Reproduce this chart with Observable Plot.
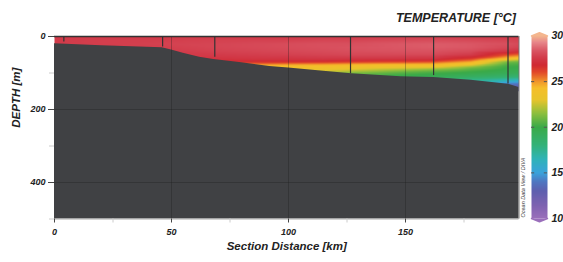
<!DOCTYPE html>
<html>
<head>
<meta charset="utf-8">
<script src="https://cdn.jsdelivr.net/npm/d3@7"></script>
<script src="https://cdn.jsdelivr.net/npm/@observablehq/plot@0.6"></script>
<style>
  html, body { margin: 0; padding: 0; background: #fff; }
  #wrap { position: relative; width: 563px; height: 262px; font-family: "Liberation Sans", Arial, sans-serif; }
  #wrap svg { position: absolute; left: 0; top: 0; }
  #title { position: absolute; right: 47px; top: 12px; font-size: 12.5px; font-weight: bold; font-style: italic; color: #222; line-height: 1; white-space: nowrap; }
</style>
</head>
<body>
<div id="wrap"><div id="title">TEMPERATURE [°C]</div></div>
<script>
// ---- data ----
const profileKm = [0, 25, 46, 68, 85, 100, 115, 127, 145, 162, 178, 194, 199];
const depthLevels = [0, 10, 20, 30, 40, 50, 60, 65, 70, 75, 80, 85, 90, 95, 100, 110, 120, 130, 140, 150];
const tempProfiles = [
  [27.5,27.6,27.6,27.6,27.5,27.4,27.3,27.2,27.1,27.0,26.8,26.5,26.0,25.5,25.0,24.0,23.0,22.0,21.0,20.0],
  [27.5,27.7,27.7,27.6,27.5,27.4,27.3,27.2,27.1,27.0,26.8,26.5,26.0,25.5,25.0,24.0,23.0,22.0,21.0,20.0],
  [27.5,27.7,27.8,27.7,27.6,27.5,27.3,27.2,27.1,27.0,26.8,26.5,26.0,25.5,25.0,24.0,23.0,22.0,21.0,20.0],
  [27.5,27.8,27.9,27.9,27.8,27.6,27.3,27.0,26.7,26.2,25.6,25.0,24.5,24.0,23.5,23.0,22.0,21.0,20.0,19.0],
  [27.5,27.8,28.0,28.0,27.9,27.7,27.4,27.1,26.5,25.5,24.5,24.0,23.5,23.0,22.5,22.0,21.0,20.0,19.0,18.0],
  [27.5,27.8,28.1,28.1,28.0,27.8,27.4,27.1,26.5,25.3,24.3,23.9,23.5,23.0,22.5,21.8,20.8,19.8,18.8,17.8],
  [27.6,27.9,28.2,28.2,28.1,27.9,27.5,27.1,26.4,25.2,24.2,23.7,23.2,22.6,22.0,21.2,20.2,19.2,18.2,17.2],
  [27.6,27.9,28.2,28.3,28.2,28.0,27.5,27.0,26.2,25.0,24.0,23.5,22.9,22.1,21.2,20.4,19.5,18.5,17.5,16.5],
  [27.7,28.0,28.4,28.4,28.3,28.0,27.5,26.9,26.0,24.8,23.8,23.1,22.2,21.3,20.6,19.8,19.0,18.0,17.0,16.0],
  [27.7,28.1,28.5,28.5,28.3,28.0,27.4,26.8,25.8,24.7,23.8,22.8,21.5,20.7,20.2,19.5,18.5,17.5,16.5,15.5],
  [27.6,28.0,28.4,28.4,28.1,27.6,26.5,25.6,24.6,23.8,22.5,21.2,20.6,20.2,19.8,19.0,17.5,16.5,15.5,14.5],
  [27.5,27.9,28.2,28.0,27.5,26.0,24.2,22.5,21.0,20.5,20.2,20.0,19.8,19.6,19.4,18.5,16.5,14.0,13.0,12.5],
  [27.5,27.8,28.0,27.8,27.2,25.6,23.8,22.0,20.8,20.4,20.1,19.9,19.7,19.5,19.3,18.3,16.2,13.8,12.8,12.3]
];
const bathyKm =    [0, 20, 46, 50, 55, 62, 68, 80, 92, 100, 115, 127, 148, 162, 178, 194, 198.5];
const bathyDepth = [20, 25, 31, 37, 46, 57, 63, 72, 82, 86, 95, 102, 110, 112, 120, 131, 140];
const stationKm =    [4, 46.2, 68.5, 126.5, 162, 193.8];
const stationDepth = [15, 29, 57, 102, 107, 130];
const xTicks = [0, 50, 100, 150];
const xMinorTicks = [25, 75, 125, 175];
const yTicks = [0, 200, 400];
const yMinorTicks = [100, 300, 500];
const colorTicks = [10, 15, 20, 25, 30];
const colorStops = [10, 11.5, 13, 14, 15, 16.5, 18, 20, 21.5, 23, 24.3, 25, 26, 26.8, 27.6, 28.4, 29.3, 30];
const colorRange = ["#9a6fbb","#7c62b0","#5f5fae","#5076c0","#3aa3dc","#2fb3b8","#33b27a","#3aaa48","#8cbf3e","#e8c42c","#f6be2a","#f0962a","#e2492a","#d02a33","#d23b4a","#da5664","#e8868a","#f4b68e"];
const xMax = 198.5, depthMax = 500;

// ---- tables ----
const samples = [];
profileKm.forEach((km, i) => depthLevels.forEach((d, j) => samples.push({km, depth: d, temp: tempProfiles[i][j]})));
const bathy = bathyKm.map((km, i) => ({km, depth: bathyDepth[i]}));
const stations = stationKm.map((km, i) => ({km, depth: stationDepth[i]}));

const color = {type: "linear", domain: colorStops, range: colorRange, interpolate: "rgb"};
const font = {fontFamily: "'Liberation Sans', Arial, sans-serif", fontStyle: "italic", fontWeight: "bold", background: "transparent", color: "#222"};

const main = Plot.plot({
  width: 563, height: 262,
  marginLeft: 54, marginRight: 44.5, marginTop: 36, marginBottom: 43.5,
  style: font,
  x: {domain: [0, xMax]},
  y: {domain: [0, depthMax], reverse: true},
  color,
  marks: [
    Plot.raster(samples, {x: "km", y: "depth", fill: "temp", interpolate: "barycentric", pixelSize: 1,
      x1: 0, x2: xMax, y1: 0, y2: d3.max(depthLevels)}),
    Plot.areaY(bathy, {x: "km", y1: "depth", y2: () => depthMax, fill: "#404144"}),
    Plot.ruleX(xTicks.slice(1), {stroke: "#1c1c1c", strokeOpacity: 0.3}),
    Plot.ruleY(yTicks.slice(1), {stroke: "#1c1c1c", strokeOpacity: 0.3}),
    Plot.ruleX(stations, {x: "km", y1: () => 0, y2: "depth", stroke: "#333", strokeWidth: 1.2}),
    Plot.ruleY([0], {stroke: "#333", strokeWidth: 1.5}),
    Plot.ruleY([depthMax], {stroke: "#aaa", strokeWidth: 1}),
    Plot.ruleX([xMax], {stroke: "#777", strokeWidth: 1}),
    Plot.axisX(xMinorTicks, {tickSize: 4, stroke: "#ccc", tickFormat: () => "", label: null}),
    Plot.axisY(yMinorTicks, {tickSize: 5, stroke: "#ccc", tickFormat: () => "", label: null}),
    Plot.axisX(xTicks, {tickSize: 4, tickPadding: 6, fontSize: 9, stroke: "#444", label: null}),
    Plot.axisY(yTicks, {tickSize: 6, tickPadding: 3, fontSize: 9, stroke: "#444", label: null}),
    Plot.text(["Section Distance [km]"], {frameAnchor: "bottom", dy: 31, fontSize: 11.5, fill: "#222"}),
    Plot.text(["DEPTH [m]"], {frameAnchor: "left", dx: -38, rotate: -90, fontSize: 11.5, fill: "#222"})
  ]
});

const cmin = d3.min(colorTicks), cmax = d3.max(colorTicks);
const capTop = [{x: 0, y: cmax}, {x: 0.5, y: cmax + 0.35}, {x: 1, y: cmax}];
const capBottom = [{x: 0, y: cmin}, {x: 0.5, y: cmin - 0.35}, {x: 1, y: cmin}];
const bar = Plot.plot({
  width: 563, height: 262,
  marginLeft: 531, marginRight: 16, marginTop: 35.5, marginBottom: 44,
  style: font,
  x: {domain: [0, 1], axis: null},
  y: {domain: [cmin, cmax], axis: null},
  color,
  marks: [
    Plot.raster({fill: (x, y) => y, x1: 0, x2: 1, y1: cmin, y2: cmax, pixelSize: 1}),
    Plot.line(capTop, {x: "x", y: "y", fill: "#f4b68e", stroke: "#f4b68e"}),
    Plot.line(capBottom, {x: "x", y: "y", fill: "#9a6fbb", stroke: "#9a6fbb"}),
    Plot.ruleY(colorTicks.slice(1, -1), {x1: () => 0, x2: () => 0.2, stroke: "#555"}),
    Plot.ruleY(colorTicks.slice(1, -1), {x1: () => 0.8, x2: () => 1, stroke: "#555"}),
    Plot.axisY(colorTicks, {anchor: "right", tickSize: 0, tickPadding: 4, fontSize: 10.5, label: null}),
    Plot.text(["Ocean Data View / DIVA"], {frameAnchor: "bottom-left", dx: -7, dy: -1, rotate: -90, textAnchor: "start", fontSize: 5.5, fontWeight: "normal", fill: "#333"})
  ]
});

const wrap = document.getElementById("wrap");
wrap.appendChild(main);
wrap.appendChild(bar);
</script>
</body>
</html>
